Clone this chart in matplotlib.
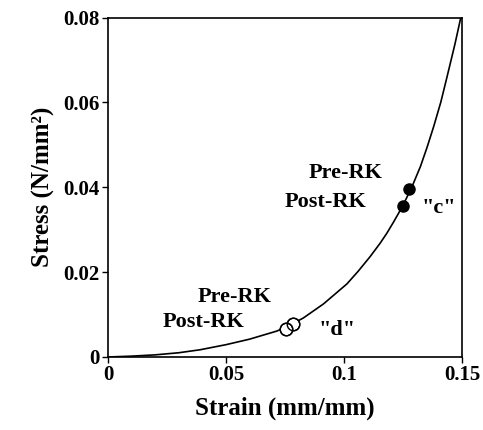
import matplotlib
matplotlib.use("Agg")
import matplotlib.pyplot as plt

# Curve
strain = [0.0, 0.010, 0.020, 0.030, 0.039, 0.050, 0.060, 0.0715, 0.0771, 0.0828, 0.0913,
          0.1012, 0.1060, 0.1110, 0.1153, 0.1182, 0.1210, 0.1248, 0.1288, 0.1324, 0.1352,
          0.1380, 0.1410, 0.1437, 0.1470, 0.1493, 0.1500]
stress = [0.0, 0.0002, 0.0005, 0.0010, 0.0017, 0.0029, 0.0042, 0.0061, 0.0075, 0.0092, 0.0125,
          0.0172, 0.0202, 0.0236, 0.0268, 0.0292, 0.0318, 0.0355, 0.0401, 0.0449, 0.0494,
          0.0543, 0.0600, 0.0661, 0.0737, 0.0795, 0.0813]

# Points "c" (filled) and "d" (open): Pre-RK, Post-RK
c_strain = [0.1276, 0.1248]
c_stress = [0.0397, 0.0355]
d_strain = [0.0785, 0.0753]
d_stress = [0.0077, 0.0067]

xticks = [0, 0.05, 0.1, 0.15]
xticklabels = ["0", "0.05", "0.1", "0.15"]
yticks = [0, 0.02, 0.04, 0.06, 0.08]
yticklabels = ["0", "0.02", "0.04", "0.06", "0.08"]

plt.rcParams['font.family'] = ['Liberation Serif', 'DejaVu Serif']
plt.rcParams['font.weight'] = 'bold'

fig = plt.figure(figsize=(4.83, 4.30), dpi=100)
ax = fig.add_axes([0.2236, 0.1698, 0.7329, 0.7895])

ax.plot(strain, stress, color='black', lw=1.2, solid_joinstyle='round')
ax.plot(c_strain, c_stress, 'o', color='black', ms=8, mec='black')
ax.plot(d_strain, d_stress, 'o', mfc='white', mec='black', ms=9, mew=1.0)
ax.plot(d_strain, d_stress, 'o', mfc='none', mec='black', ms=9, mew=1.0)

ax.set_xlim(0, 0.15)
ax.set_ylim(0, 0.08)
ax.set_xticks(xticks)
ax.set_xticklabels(xticklabels)
ax.set_yticks(yticks)
ax.set_yticklabels(yticklabels)
ax.tick_params(direction='out', length=4, width=1.0, labelsize=15, pad=2)
for lbl in ax.get_xticklabels() + ax.get_yticklabels():
    lbl.set_fontweight('bold')
for s in ax.spines.values():
    s.set_linewidth(1.2)

ax.set_xlabel("Strain (mm/mm)", fontsize=18, fontweight='bold', labelpad=8)
ax.set_ylabel("Stress (N/mm²)", fontsize=18, fontweight='bold', labelpad=6)

tk = dict(fontsize=16, fontweight='bold', ha='center', va='center')
ax.text(0.1005, 0.0434, "Pre-RK", **tk)
ax.text(0.0920, 0.0366, "Post-RK", **tk)
ax.text(0.1400, 0.0350, '"c"', **tk)
ax.text(0.0538, 0.0142, "Pre-RK", **tk)
ax.text(0.0403, 0.0083, "Post-RK", **tk)
ax.text(0.0970, 0.0064, '"d"', **tk)

fig.savefig("out.png", dpi=100)
